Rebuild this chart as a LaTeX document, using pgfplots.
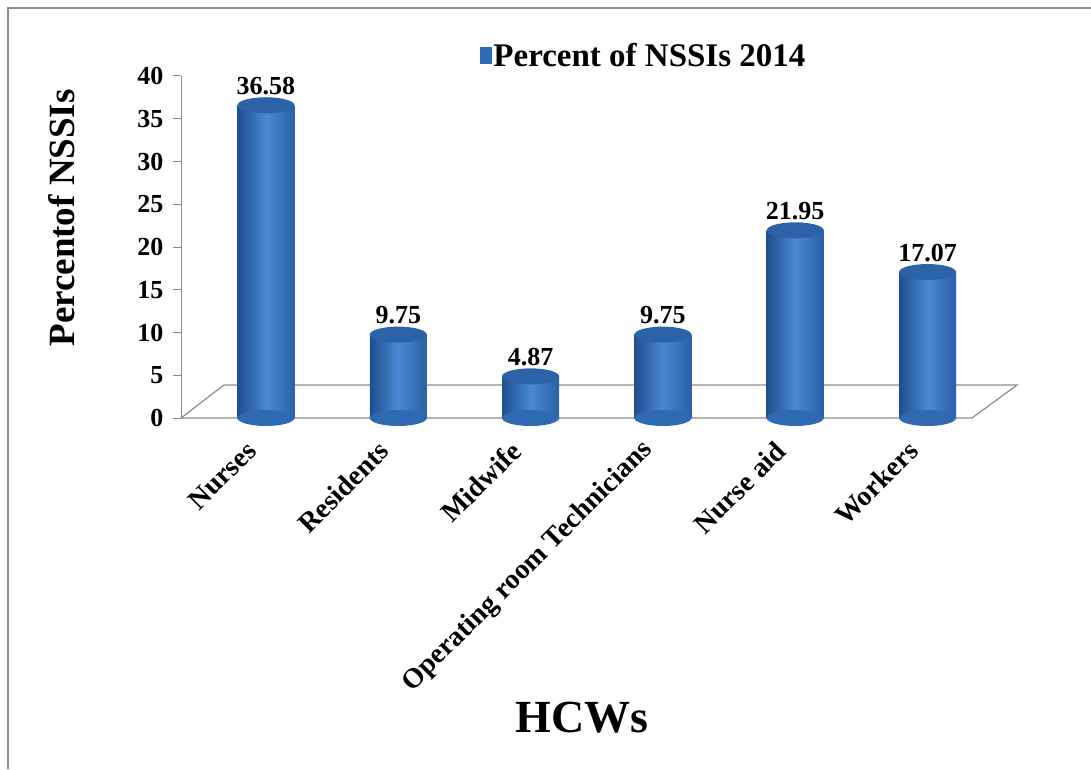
\documentclass[border=0pt]{standalone}
\usepackage{fontspec}
\setmainfont{Liberation Serif}
\usepackage{pgfplots}
\pgfplotsset{compat=1.18}
\definecolor{bardark}{HTML}{1F4E8C}
\definecolor{barlight}{HTML}{4A88D2}
\definecolor{barmid}{HTML}{2F69B2}
\definecolor{barright}{HTML}{2A60A6}
\definecolor{capcol}{HTML}{2B62A8}
\definecolor{framegray}{HTML}{8C8C8C}
\pgfdeclareplotmark{cylcap}{%
  \pgfpathellipse{\pgfpointorigin}{\pgfpoint{28.5pt}{0pt}}{\pgfpoint{0pt}{8pt}}%
  \pgfusepathqfill}
\pgfplotsset{cylbar/.style={ybar, bar width=57pt, bar shift=0pt, draw=none,
  left color=bardark, right color=barright, middle color=barlight, forget plot}}
\begin{document}
\begin{tikzpicture}
\useasboundingbox (0pt,0pt) rectangle (1091pt,769pt);
\draw[framegray, line width=2pt] (8pt,0pt) -- (8pt,761pt) -- (1091pt,761pt);
\begin{axis}[
  at={(181pt,351pt)}, anchor=south west,
  scale only axis, width=791pt, height=342pt,
  xmin=-0.642, xmax=5.336, ymin=0, ymax=40,
  ytick={0,5,...,40},
  xtick={0,1,2,3,4,5},
  xticklabels={Nurses,Residents,Midwife,Operating room Technicians,Nurse aid,Workers},
  axis y line=left, axis x line=bottom,
  x axis line style={draw=none}, y axis line style={framegray,-,line width=1pt},
  tick align=outside, major tick length=8pt,
  ytick style={framegray, line width=1pt}, xtick style={draw=none},
  /pgf/number format/assume math mode=true,
  yticklabel style={font=\bfseries\fontsize{26}{26}\selectfont, xshift=-6pt},
  xticklabel style={font=\bfseries\fontsize{28}{28}\selectfont, xshift=-12pt, yshift=-18pt, rotate=45, anchor=east},
  ylabel={Percentof NSSIs},
  ylabel style={font=\bfseries\fontsize{37}{37}\selectfont, at={(axis description cs:-0.1504,0.585)}, anchor=center},
  xlabel={HCWs},
  xlabel style={font=\bfseries\fontsize{46}{46}\selectfont, at={(axis description cs:0.507,-0.877)}, anchor=center},
  legend style={at={(axis description cs:0.585,1.061)}, anchor=center, draw=none, fill=none, font=\bfseries\fontsize{33}{33}\selectfont},
  legend cell align=left,
  clip=false,
]
\draw[framegray, line width=1.2pt, fill=white] (axis cs:-0.642,0) -- ++(43pt,33pt) -- ++(793pt,0pt) -- (axis cs:5.336,0) -- cycle;
\addplot[only marks, mark=cylcap, mark options={fill=barmid}, forget plot]
  coordinates {(0,0) (1,0) (2,0) (3,0) (4,0) (5,0)};
\addplot[cylbar] coordinates {(0,36.58)};
\addplot[cylbar] coordinates {(1,9.75)};
\addplot[cylbar] coordinates {(2,4.87)};
\addplot[cylbar] coordinates {(3,9.75)};
\addplot[cylbar] coordinates {(4,21.95)};
\addplot[cylbar] coordinates {(5,17.07)};
\addplot[only marks, mark=cylcap, mark options={fill=capcol}, forget plot,
  nodes near coords, point meta=explicit symbolic,
  nodes near coords style={font=\bfseries\fontsize{26}{26}\selectfont, anchor=south, yshift=7pt, text=black}]
  coordinates {(0,36.58) [36.58] (1,9.75) [9.75] (2,4.87) [4.87] (3,9.75) [9.75] (4,21.95) [21.95] (5,17.07) [17.07]};
\addlegendimage{legend image code/.code={\fill[barmid] (0pt,-8pt) rectangle (11pt,8pt);}}
\addlegendentry{Percent of NSSIs 2014}
\end{axis}
\end{tikzpicture}
\end{document}
